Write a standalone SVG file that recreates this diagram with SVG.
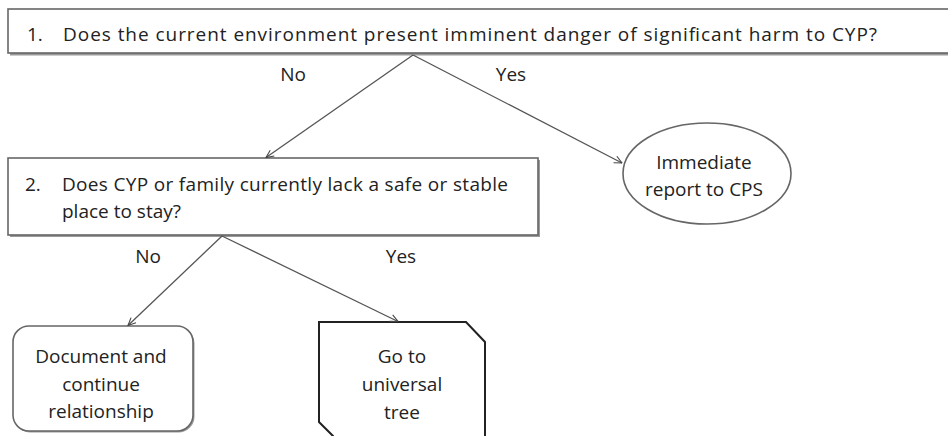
<svg xmlns="http://www.w3.org/2000/svg" width="948" height="436" viewBox="0 0 948 436">
  <defs>
    <marker id="arrow" viewBox="0 0 10 10" refX="9.5" refY="5" markerWidth="9" markerHeight="9" markerUnits="userSpaceOnUse" orient="auto">
      <path d="M1,1 L9.5,5 L1,9" fill="none" stroke="#444" stroke-width="1.2"/>
    </marker>
  </defs>
  <style>
    text { font-family: "Open Sans", "Noto Sans", "DejaVu Sans", sans-serif; font-size: 19px; fill: #222; }
    .mid { text-anchor: middle; }
    .box { fill: #fff; stroke: #666; stroke-width: 1.6; }
    .shadow { fill: #9a9a9a; stroke: none; }
    .edge { fill: none; stroke: #555; stroke-width: 1.3; }
  </style>
  <rect width="948" height="436" fill="#fff"/>

  <!-- question 1 -->
  <g id="q1">
    <rect class="shadow" x="10" y="11" width="950" height="44.5"/>
    <rect class="box" x="8" y="9" width="950" height="44"/>
    <text x="27" y="41">1.</text>
    <text x="63" y="41" textLength="814" lengthAdjust="spacing">Does the current environment present imminent danger of significant harm to CYP?</text>
  </g>

  <!-- question 2 -->
  <g id="q2">
    <rect class="shadow" x="10" y="160" width="530" height="77"/>
    <rect class="box" x="8" y="158" width="530" height="77"/>
    <text x="25" y="191">2.</text>
    <text x="62" y="191" textLength="446" lengthAdjust="spacing">Does CYP or family currently lack a safe or stable</text>
    <text x="62" y="218">place to stay?</text>
  </g>

  <!-- outcome: report -->
  <g id="report">
    <ellipse class="box" cx="707" cy="173.5" rx="84" ry="50.5"/>
    <text class="mid" x="704" y="169">Immediate</text>
    <text class="mid" x="704" y="196">report to CPS</text>
  </g>

  <!-- outcome: document -->
  <g id="document">
    <rect class="shadow" x="14.5" y="327.5" width="180" height="105" rx="16"/>
    <rect class="box" x="13" y="326" width="180" height="105" rx="16"/>
    <text class="mid" x="101" y="363">Document and</text>
    <text class="mid" x="101" y="391">continue</text>
    <text class="mid" x="101" y="418">relationship</text>
  </g>

  <!-- outcome: universal tree -->
  <g id="universal">
    <path d="M319,322 L466,322 L485,342 L485,440 L333,440 L333,436 L319,422 Z" fill="#fff" stroke="#222" stroke-width="2"/>
    <text class="mid" x="402" y="363">Go to</text>
    <text class="mid" x="402" y="391">universal</text>
    <text class="mid" x="402" y="419">tree</text>
  </g>

  <!-- connectors -->
  <g id="connectors">
    <line class="edge" x1="413" y1="55" x2="266" y2="157.5" marker-end="url(#arrow)"/>
    <line class="edge" x1="413" y1="55" x2="622" y2="163" marker-end="url(#arrow)"/>
    <line class="edge" x1="222" y1="236" x2="128" y2="325.5" marker-end="url(#arrow)"/>
    <line class="edge" x1="222" y1="236" x2="398" y2="321.5" marker-end="url(#arrow)"/>
    <text class="mid" x="293" y="81">No</text>
    <text class="mid" x="511" y="81">Yes</text>
    <text class="mid" x="148" y="263">No</text>
    <text class="mid" x="401" y="263">Yes</text>
  </g>
</svg>
